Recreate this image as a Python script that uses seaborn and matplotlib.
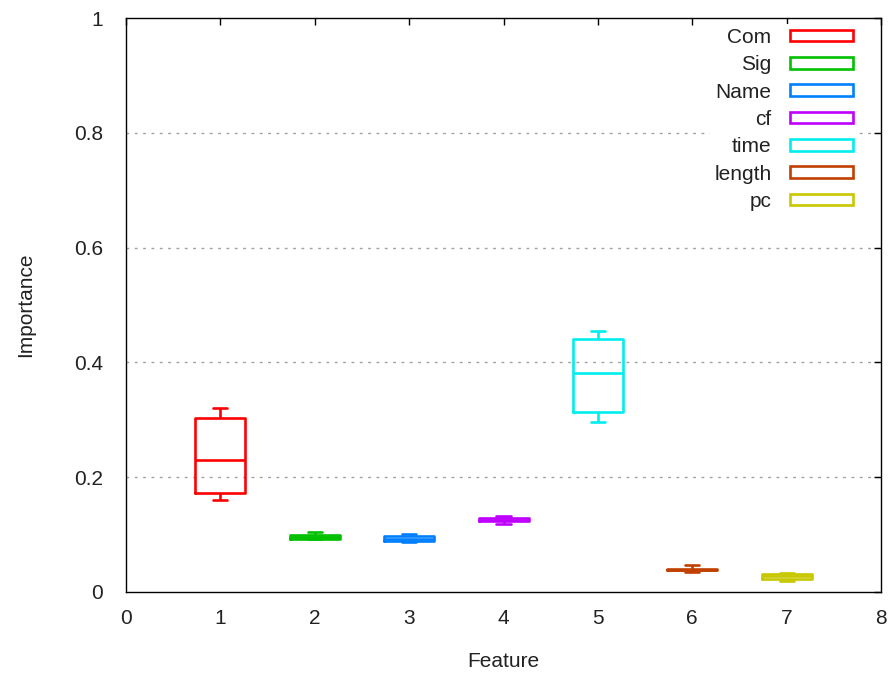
import matplotlib
matplotlib.use("Agg")
import matplotlib.pyplot as plt
import matplotlib.patches as mpatches
import seaborn as sns
import pandas as pd

# Feature names, positions and colours
features = ["Com", "Sig", "Name", "cf", "time", "length", "pc"]
positions = [1, 2, 3, 4, 5, 6, 7]
colors = ["#ff0000", "#00c000", "#0080ff", "#c000ff", "#00eeee", "#c04000", "#c8c800"]

# Five-number summaries: [min, q1, median, q3, max]
com_vals = [0.160, 0.1725, 0.230, 0.303, 0.321]
sig_vals = [0.092, 0.0925, 0.096, 0.100, 0.1045]
name_vals = [0.0875, 0.089, 0.093, 0.097, 0.1015]
cf_vals = [0.119, 0.124, 0.126, 0.129, 0.1325]
time_vals = [0.296, 0.3136, 0.382, 0.441, 0.455]
length_vals = [0.035, 0.0388, 0.039, 0.0392, 0.047]
pc_vals = [0.019, 0.022, 0.027, 0.031, 0.033]

all_vals = [com_vals, sig_vals, name_vals, cf_vals, time_vals, length_vals, pc_vals]

rows = []
for name, pos, vals in zip(features, positions, all_vals):
    for v in vals:
        rows.append({"Feature": pos, "name": name, "Importance": v})
df = pd.DataFrame(rows)

sns.set_style("white")
plt.rcParams["font.family"] = ["Liberation Sans", "DejaVu Sans"]

FS = 15

fig = plt.figure(figsize=(8.93, 6.75), dpi=100)
ax = fig.add_axes([0.1411, 0.123, 0.9866 - 0.1411, 0.9733 - 0.123])

palette = dict(zip(features, colors))
sns.boxplot(data=df, x="Feature", y="Importance", hue="name", palette=palette,
            native_scale=True, dodge=False, fill=False, width=0.53,
            whis=(0, 100), linewidth=1.9, legend=False, capwidths=0.15,
            showfliers=False, ax=ax)

ax.set_xlim(0, 8)
ax.set_ylim(0, 1)
ax.set_xticks(range(0, 9))
ax.set_xticklabels([str(i) for i in range(0, 9)])
yt = [0, 0.2, 0.4, 0.6, 0.8, 1]
ax.set_yticks(yt)
ax.set_yticklabels(["0", "0.2", "0.4", "0.6", "0.8", "1"])
ax.tick_params(direction="in", length=5, width=1, top=True, right=True,
               labelsize=FS, colors="black")
ax.tick_params(axis="y", pad=16.5)
ax.tick_params(axis="x", pad=12.5)
for lab in ax.get_xticklabels() + ax.get_yticklabels():
    lab.set_color("#222222")

for y in [0.2, 0.4, 0.6, 0.8]:
    ax.axhline(y, color="#a0a0a0", linestyle=(0, (2, 4)), linewidth=1, zorder=0)

for s in ax.spines.values():
    s.set_color("black")
    s.set_linewidth(1)

ax.set_xlabel("Feature", fontsize=FS, color="#222222")
ax.set_ylabel("Importance", fontsize=FS, color="#222222")
ax.xaxis.set_label_coords(0.5, -0.104)
ax.yaxis.set_label_coords(-0.1205, 0.5)

handles = [mpatches.Rectangle((0, 0), 1, 1, facecolor="none", edgecolor=c, linewidth=1.9)
           for c in colors]
leg = ax.legend(handles, features, loc="upper right", bbox_to_anchor=(0.968, 0.990),
                markerfirst=False, frameon=True, framealpha=1, edgecolor="none",
                facecolor="white", fontsize=FS, handlelength=3.03, handleheight=0.48,
                handletextpad=0.87, labelspacing=0.4, borderpad=0.2, borderaxespad=0,
                fancybox=False)
for t in leg.get_texts():
    t.set_ha("right")
    t.set_color("#222222")

fig.savefig("out.png", dpi=100)
